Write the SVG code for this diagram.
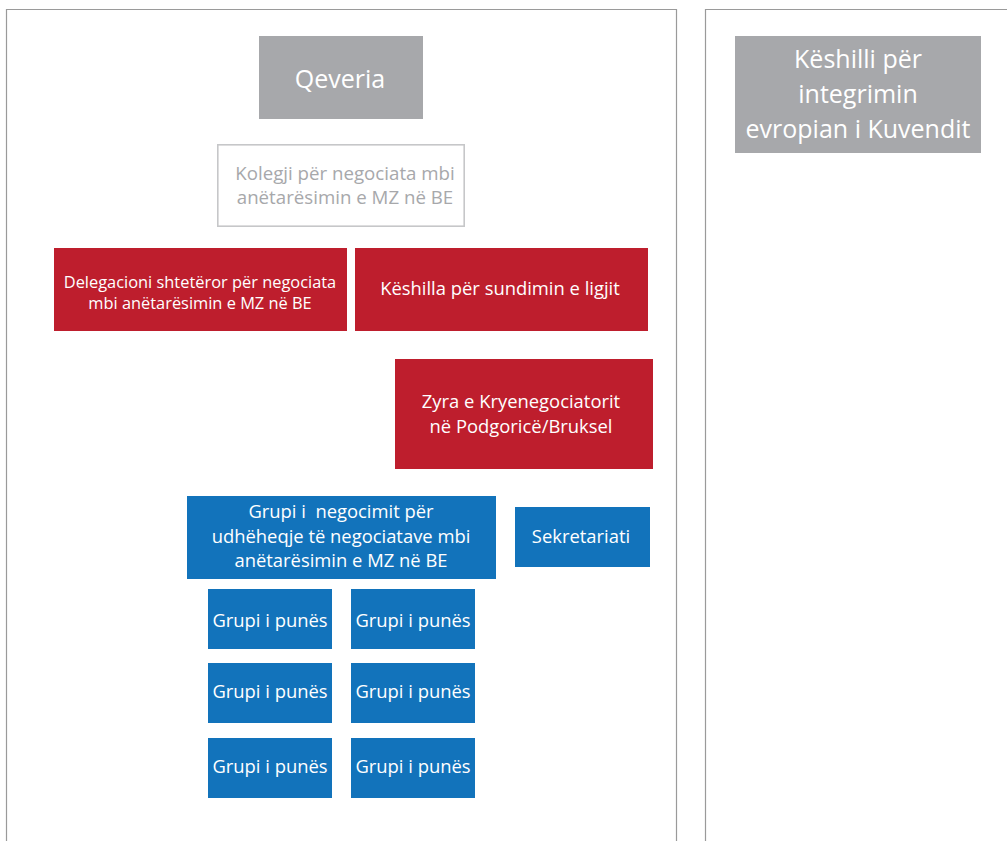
<svg xmlns="http://www.w3.org/2000/svg" width="1007" height="841" viewBox="0 0 1007 841">
<style>
.panel{fill:none;stroke:#9a9a9a;stroke-width:1.2}
.gray{fill:#a7a8ab}
.red{fill:#be1e2d}
.blue{fill:#1273bb}
.outline{fill:#fff;stroke:#c6c7c9;stroke-width:1.6}
text{font-family:"Open Sans","Liberation Sans",sans-serif;text-anchor:middle;fill:#fff}
.t17{font-size:18.4px}
.t15{font-size:16.4px}
.t24{font-size:25px}
.gt{fill:#a7a8ab;font-size:18.7px}
</style>
<rect width="1007" height="841" fill="#fff"/>
<g id="panels">
<path class="panel" d="M6.5,850 V9.5 H676.5 V850"/>
<path class="panel" d="M705.5,850 V9.5 H1020"/>
</g>
<g id="connectors"></g>
<g id="qeveria"><rect class="gray" x="259" y="36" width="164" height="83"/><text class="t24" x="340" y="88">Qeveria</text></g>
<g id="kolegji"><rect class="outline" x="217.8" y="144.8" width="246.4" height="81.4"/><text class="gt" x="345" y="180">Kolegji për negociata mbi</text><text class="gt" x="345" y="204">anëtarësimin e MZ në BE</text></g>
<g id="delegacioni"><rect class="red" x="54" y="248" width="293" height="83"/><text class="t15" x="200" y="288">Delegacioni shtetëror për negociata</text><text class="t15" x="200" y="309">mbi anëtarësimin e MZ në BE</text></g>
<g id="keshilla"><rect class="red" x="355" y="248" width="293" height="83"/><text class="t17" x="500" y="295">Këshilla për sundimin e ligjit</text></g>
<g id="zyra"><rect class="red" x="395" y="359" width="258" height="110"/><text class="t17" x="521" y="408">Zyra e Kryenegociatorit</text><text class="t17" x="521" y="433">në Podgoricë/Bruksel</text></g>
<g id="grupi-negocimit"><rect class="blue" x="187" y="496" width="309" height="83"/><text class="t17" x="341" y="518" style="white-space:pre">Grupi i  negocimit për</text><text class="t17" x="341" y="543">udhëheqje të negociatave mbi</text><text class="t17" x="341" y="567">anëtarësimin e MZ në BE</text></g>
<g id="sekretariati"><rect class="blue" x="515" y="507" width="135" height="60"/><text class="t17" x="581" y="543">Sekretariati</text></g>
<g id="gp1"><rect class="blue" x="208" y="589" width="124" height="60"/><text class="t17" x="270" y="627">Grupi i punës</text></g>
<g id="gp2"><rect class="blue" x="351" y="589" width="124" height="60"/><text class="t17" x="413" y="627">Grupi i punës</text></g>
<g id="gp3"><rect class="blue" x="208" y="663" width="124" height="60"/><text class="t17" x="270" y="698">Grupi i punës</text></g>
<g id="gp4"><rect class="blue" x="351" y="663" width="124" height="60"/><text class="t17" x="413" y="698">Grupi i punës</text></g>
<g id="gp5"><rect class="blue" x="208" y="738" width="124" height="60"/><text class="t17" x="270" y="773">Grupi i punës</text></g>
<g id="gp6"><rect class="blue" x="351" y="738" width="124" height="60"/><text class="t17" x="413" y="773">Grupi i punës</text></g>
<g id="keshilli"><rect class="gray" x="735" y="36" width="246" height="117"/><text class="t24" x="858" y="68">Këshilli për</text><text class="t24" x="858" y="103">integrimin</text><text class="t24" x="858" y="138">evropian i Kuvendit</text></g>
</svg>
